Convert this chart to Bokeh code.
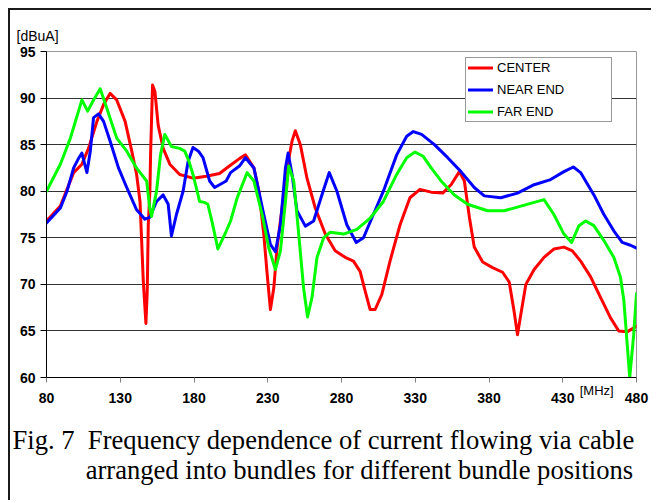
from bokeh.plotting import figure
from bokeh.models import FixedTicker, Legend, LegendItem, Range1d, Title, LinearAxis
from bokeh.embed import file_html
from bokeh.resources import INLINE

# ---------------- data ----------------
x_ticks = [80, 130, 180, 230, 280, 330, 380, 430, 480]
y_ticks = [60, 65, 70, 75, 80, 85, 90, 95]
grid_ticks = [65, 70, 75, 80, 85, 90]

center_f = [80, 89.4, 93.9, 98.4, 104, 108.5, 114.2, 118.7, 123.1, 127.6, 133.3, 137.8,
            141.1, 143.4, 144.5, 145.6, 147.4, 148.3, 149, 150.1, 150.6, 151.9, 153.5,
            155.7, 159.1, 163.6, 170.3, 179.3, 188.3, 197.3, 204, 210.8, 214.9, 220.6,
            224, 227.3, 229.6, 231.8, 234.1, 236.3, 239.7, 243.1, 246.5, 248.7, 252.1,
            256.6, 262.2, 269, 275.7, 282.5, 288.1, 292.6, 296, 299.4, 302.8, 307.3,
            312.9, 319.7, 326.4, 333.2, 340.8, 348.6, 354.3, 359.9, 363.3, 366.7, 370,
            375.7, 382.4, 389.2, 393.7, 397, 399.3, 401.6, 405, 410.6, 417.3, 424.1,
            430.8, 436.5, 442.1, 448.9, 455.6, 462.4, 468, 473.6, 480]
center_v = [76.8, 78.4, 80.2, 82, 82.9, 84.6, 87.5, 89.3, 90.5, 89.8, 87.5, 84.3,
            81.8, 78.9, 74.7, 70.4, 65.8, 69.3, 76.4, 80, 84.2, 91.4, 90.7,
            87.1, 84.6, 82.9, 81.8, 81.4, 81.6, 81.9, 82.7, 83.5, 83.9, 82.5,
            80, 75.4, 71.1, 67.3, 69.6, 73.9, 78.2, 82.5, 85.4, 86.5, 85,
            81.4, 78.2, 75.4, 73.6, 72.9, 72.5, 71.4, 69.3, 67.3, 67.3, 68.9,
            72.5, 76.4, 79.3, 80.2, 79.9, 79.8, 80.7, 82.1, 81.1, 77.2, 74,
            72.4, 71.8, 71.3, 70.25, 67.1, 64.6, 66.8, 70, 71.6, 72.9, 73.8,
            74, 73.6, 72.5, 70.8, 68.6, 66.4, 65, 64.9, 65.5]

near_f = [80, 89.4, 93.9, 98.4, 102, 104, 107.4, 109.7, 111.9, 115.3, 118.7, 123.1,
          128.8, 134.4, 141.1, 146.7, 150.1, 154.6, 159.1, 162.5, 164.7, 168.1, 172.6,
          176, 179.3, 183, 186.1, 190.6, 194, 201.8, 204.8, 210.8, 214.9, 220.6, 227.3,
          231.8, 235.2, 238.6, 242, 243.8, 246.5, 249.8, 255.5, 261.1, 266.7, 271.7,
          276.9, 283.6, 290, 294.9, 301.6, 308.4, 317.4, 324.2, 328.7, 334.3, 343, 352,
          361, 370, 376.8, 388, 399.3, 410.6, 421.8, 430.8, 437.2, 442.1, 451.1, 457.9,
          464.6, 470.3, 475.9, 480]
near_v = [76.6, 78.2, 80, 82.5, 83.6, 84.1, 82, 84.3, 87.9, 88.3, 87.5, 85.4,
          82.5, 80.4, 78.0, 77, 77.2, 78.9, 79.6, 78.6, 75.2, 77.5, 80,
          83.2, 84.7, 84.3, 83.6, 81.1, 80.4, 81.1, 82, 82.7, 83.6, 82.5, 77.5,
          74.3, 73.5, 76.4, 82.5, 84.1, 81.8, 77.9, 76.25, 76.8, 79.6, 82,
          80, 76.4, 74.5, 75, 77.5, 80, 83.9, 85.9, 86.4, 86.1, 85, 83.6,
          82.1, 80.4, 79.5, 79.3, 79.8, 80.7, 81.25, 82.1, 82.6, 82, 79.6, 77.5,
          75.75, 74.5, 74.2, 73.9]

far_f = [80, 89.4, 96.2, 104, 107.9, 111.9, 116.4, 120.9, 127.6, 134.4, 141, 147.9,
         150, 151.2, 154.6, 157.3, 160.2, 164.7, 170.3, 173.7, 176.6, 179.3, 183.8, 187,
         189.4, 192.4, 196.2, 201.8, 204.8, 209.3, 216, 220.6, 226.2, 230.7, 235.2, 238.6,
         242, 244.2, 247.6, 251, 254.3, 257, 260, 263.4, 267.9, 272.4, 281.4, 290.4,
         299.4, 308.4, 317.4, 324.2, 329.8, 335.4, 340.8, 347.5, 356.5, 365.5, 379, 390.3,
         401.6, 417.3, 424, 430.8, 436, 441, 445.5, 451.1, 457.9, 464.6, 469.1, 471.4,
         473.2, 475.4, 478.1, 480]
far_v = [80, 82.9, 85.7, 89.8, 88.6, 89.8, 91.0, 88.9, 85.7, 84.3, 82.5, 81.1,
         78.2, 77.3, 80, 83.9, 86.1, 84.8, 84.6, 84.3, 83.2, 81.8, 78.9, 78.8,
         78.6, 76.6, 73.8, 75.7, 76.8, 79.3, 82, 81.1, 77.5, 73.9, 71.6, 73.6,
         78.9, 82.7, 81.1, 75.4, 69.6, 66.5, 68.6, 72.9, 75, 75.6, 75.4, 75.9,
         77.1, 78.9, 81.8, 83.6, 84.2, 83.75, 82.5, 81.1, 79.6, 78.6, 77.9, 77.9,
         78.4, 79.1, 77.5, 75.4, 74.5, 76.3, 76.8, 76.3, 74.7, 72.9, 70.8, 68.3,
         64.6, 60.0, 64.6, 69]

series_names = ["CENTER", "NEAR END", "FAR END"]
series_colors = ["#FF0000", "#0000FF", "#00FF00"]

caption_line1 = "Fig. 7\u2002Frequency dependence of current flowing via cable"
caption_line2 = "arranged into bundles for different bundle positions"
y_unit = "[dBuA]"
x_unit = "[MHz]"

# ---------------- figure ----------------
W, H = 643, 492
p = figure(width=W, height=H,
           x_range=Range1d(80, 480), y_range=Range1d(60, 95),
           output_backend="svg", toolbar_location=None,
           min_border_left=36, min_border_right=17,
           min_border_top=41, min_border_bottom=H - 41 - 326)
p.styles = {"border-left": "2px solid #1a1a1a", "border-top": "2px solid #1a1a1a",
            "margin-left": "8px", "margin-top": "8px"}

p.outline_line_color = "#999999"
p.outline_line_width = 1
p.background_fill_color = "white"
p.border_fill_color = "white"

p.xgrid.visible = False
p.ygrid.ticker = FixedTicker(ticks=grid_ticks)
p.ygrid.grid_line_color = "#333333"
p.ygrid.grid_line_width = 1

p.xaxis.ticker = FixedTicker(ticks=x_ticks)
p.yaxis.ticker = FixedTicker(ticks=y_ticks)
for ax in (p.xaxis, p.yaxis):
    ax.axis_line_color = "black"
    ax.axis_line_width = 1
    ax.minor_tick_line_color = None
    ax.major_tick_in = 0
    ax.major_label_text_font = "Liberation Sans"
    ax.major_label_text_font_style = "bold"
    ax.major_label_text_font_size = "14px"
    ax.major_label_text_color = "black"
p.xaxis.major_tick_out = 5
p.xaxis.major_tick_line_color = "#808080"
p.xaxis.major_label_standoff = 10
p.yaxis.major_tick_out = 6
p.yaxis.major_tick_line_color = "black"
p.yaxis.major_label_standoff = 5

# unit label of the x axis, sitting between the last two tick labels
mhz_at = 453
mhz_axis = LinearAxis(ticker=FixedTicker(ticks=[mhz_at]),
                      major_label_overrides={mhz_at: x_unit},
                      axis_line_color=None, major_tick_line_color=None,
                      minor_tick_line_color=None, major_tick_out=0, major_tick_in=0,
                      major_label_standoff=-23,
                      major_label_text_font="Liberation Sans",
                      major_label_text_font_size="13px",
                      major_label_text_color="black")
p.add_layout(mhz_axis, "below")

renderers = []
for f, v, c in zip([center_f, near_f, far_f], [center_v, near_v, far_v], series_colors):
    r = p.line(f, v, line_color=c, line_width=3, line_join="round", line_cap="round")
    renderers.append(r)

legend = Legend(items=[LegendItem(label=n, renderers=[r]) for n, r in zip(series_names, renderers)],
                location=(419, 255), margin=0, padding=2, spacing=7,
                glyph_width=25, glyph_height=15, label_height=15, label_width=112,
                label_standoff=4,
                label_text_font="Liberation Sans", label_text_font_size="13px",
                label_text_color="black",
                border_line_color="#333333", border_line_width=1,
                background_fill_color="white", background_fill_alpha=1.0)
p.add_layout(legend)

# y unit as the (left aligned) title above the frame
p.title.text = y_unit
p.title.align = "left"
p.title.offset = -30
p.title.standoff = 16
p.title.text_font = "Liberation Sans"
p.title.text_font_style = "normal"
p.title.text_font_size = "14px"
p.title.text_color = "black"

# two-line figure caption; second line indented under "Frequency"
indent = "\u2002" * 5 + "\u00a0"
caption = caption_line1 + "\n" + indent + caption_line2
serif = "Liberation Serif"
t1 = Title(text=caption, align="left", offset=-34, standoff=34,
           text_font=serif, text_font_style="normal", text_font_size="26.6px",
           text_line_height=1.0, text_color="black")
p.add_layout(t1, "below")

open("out.html", "w").write(file_html(p, INLINE))
